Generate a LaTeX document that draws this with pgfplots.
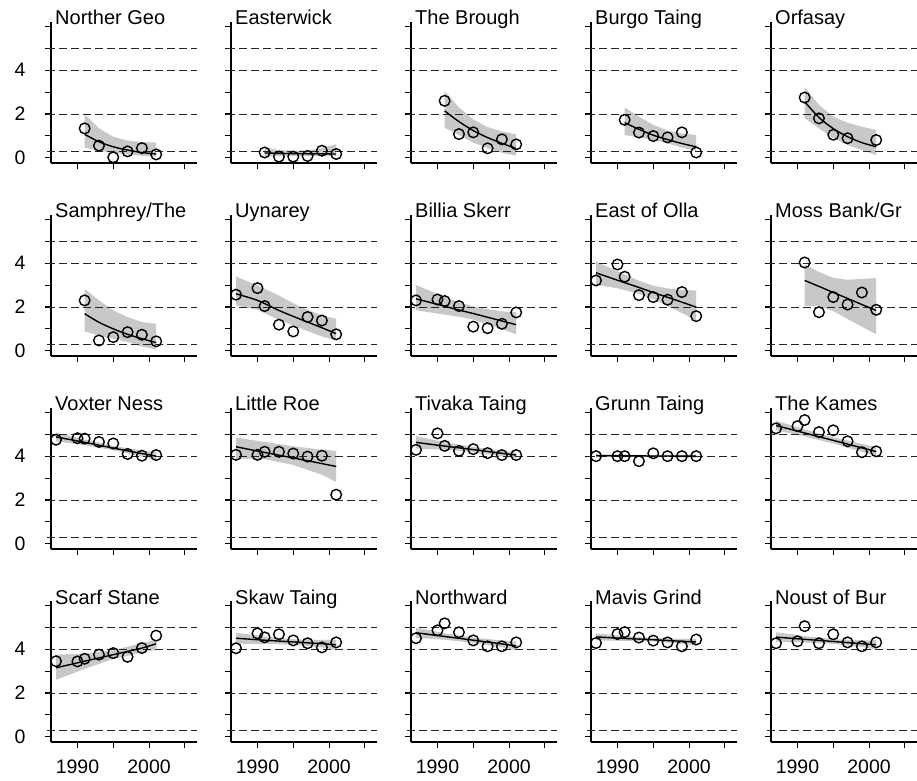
\documentclass[border=0pt]{standalone}
\usepackage{pgfplots}
\pgfplotsset{compat=1.18}
\usepackage{pgfplotstable}
\usepackage{fontspec}
\setmainfont{Liberation Sans}

\definecolor{bandgray}{RGB}{200,200,200}

\pgfplotsset{
  panel/.style={
    scale only axis, width=146pt, height=141pt,
    xmin=1986.3, xmax=2006.7, ymin=-0.24, ymax=6.2,
    clip=false,
    axis x line*=bottom, axis y line*=left,
    axis line style={-, line width=1.6pt},
    xtick={1990,1995,2000,2005}, ytick={0,1,2,3,4,5,6},
    tick align=outside, major tick length=6pt,
    tick style={line width=1.1pt, black},
    xticklabel style={font=\fontsize{19.5}{20}\selectfont, yshift=-8pt},
    yticklabel style={font=\fontsize{19.5}{20}\selectfont, xshift=-16pt},
  },
  refline/.style={black!85, line width=0.9pt, dash pattern=on 8pt off 4pt},
}

% p* = counts, f* = fitted line, b* = band outline (upper edge, then lower edge back)
\pgfplotstableread{
x y
1991 1.34
1993 0.55
1995 0.02
1997 0.29
1999 0.44
2001 0.15
}\pNG
\pgfplotstableread{
x f
1991 1.07
1993 0.73
1995 0.50
1997 0.35
1999 0.24
2001 0.17
}\fNG
\pgfplotstableread{
x y
1991 2.00
1993 1.34
1995 0.96
1997 0.78
1999 0.72
2001 0.69
2001 0.05
1999 0.09
1997 0.15
1995 0.23
1993 0.32
1991 0.46
}\bNG

\pgfplotstableread{
x y
1991 0.24
1993 0.05
1995 0.05
1997 0.08
1999 0.32
2001 0.17
}\pEW
\pgfplotstableread{
x f
1991 0.22
1993 0.20
1995 0.19
1997 0.18
1999 0.18
2001 0.17
}\fEW
\pgfplotstableread{
x y
1991 0.46
1993 0.36
1995 0.32
1997 0.34
1999 0.45
2001 0.62
2001 0.08
1999 0.09
1997 0.09
1995 0.09
1993 0.08
1991 0.06
}\bEW

\pgfplotstableread{
x y
1991 2.60
1993 1.08
1995 1.16
1997 0.43
1999 0.84
2001 0.61
}\pTB
\pgfplotstableread{
x f
1991 2.14
1993 1.65
1995 1.24
1997 0.92
1999 0.66
2001 0.42
}\fTB
\pgfplotstableread{
x y
1991 3.05
1993 2.30
1995 1.75
1997 1.40
1999 1.20
2001 1.07
2001 0.09
1999 0.23
1997 0.43
1995 0.69
1993 1.04
1991 1.37
}\bTB

\pgfplotstableread{
x y
1991 1.73
1993 1.15
1995 0.99
1997 0.93
1999 1.16
2001 0.24
}\pBT
\pgfplotstableread{
x f
1991 1.60
1993 1.30
1995 1.03
1997 0.83
1999 0.65
2001 0.50
}\fBT
\pgfplotstableread{
x y
1991 2.29
1993 1.88
1995 1.50
1997 1.24
1999 1.11
2001 1.04
2001 0.30
1999 0.47
1997 0.66
1995 0.81
1993 0.93
1991 1.04
}\bBT

\pgfplotstableread{
x y
1991 2.75
1993 1.80
1995 1.05
1997 0.89
2001 0.81
}\pOR
\pgfplotstableread{
x f
1991 2.56
1993 1.84
1995 1.33
1997 0.96
1999 0.69
2001 0.50
}\fOR
\pgfplotstableread{
x y
1991 3.22
1993 2.41
1995 1.88
1997 1.60
1999 1.42
2001 1.27
2001 0.12
1999 0.35
1997 0.58
1995 0.89
1993 1.34
1991 1.80
}\bOR

\pgfplotstableread{
x y
1991 2.30
1993 0.47
1995 0.62
1997 0.85
1999 0.73
2001 0.43
}\pSA
\pgfplotstableread{
x f
1991 1.69
1993 1.30
1995 1.00
1997 0.75
1999 0.55
2001 0.37
}\fSA
\pgfplotstableread{
x y
1991 2.83
1993 2.30
1995 1.84
1997 1.54
1999 1.31
2001 1.23
2001 0.05
1999 0.20
1997 0.40
1995 0.55
1993 0.70
1991 0.88
}\bSA

\pgfplotstableread{
x y
1987 2.56
1990 2.86
1991 2.04
1993 1.19
1995 0.88
1997 1.54
1999 1.38
2001 0.75
}\pUY
\pgfplotstableread{
x f
1987 2.60
1990 2.30
1993 1.84
1995 1.57
1997 1.31
1999 1.05
2001 0.78
}\fUY
\pgfplotstableread{
x y
1987 3.39
1990 2.98
1993 2.52
1995 2.17
1997 1.87
1999 1.61
2001 1.46
2001 0.47
1999 0.65
1997 0.90
1995 1.16
1993 1.41
1990 1.87
1987 2.07
}\bUY

\pgfplotstableread{
x y
1987 2.30
1990 2.34
1991 2.27
1993 2.04
1995 1.10
1997 1.03
1999 1.23
2001 1.75
}\pBS
\pgfplotstableread{
x f
1987 2.37
1990 2.12
1993 1.86
1995 1.70
1997 1.53
1999 1.36
2001 1.19
}\fBS
\pgfplotstableread{
x y
1987 3.00
1990 2.60
1993 2.20
1995 2.02
1997 1.90
1999 1.80
2001 1.76
2001 0.75
1999 0.98
1997 1.20
1995 1.42
1993 1.55
1990 1.70
1987 1.85
}\bBS

\pgfplotstableread{
x y
1987 3.21
1990 3.94
1991 3.38
1993 2.54
1995 2.45
1997 2.33
1999 2.68
2001 1.58
}\pEO
\pgfplotstableread{
x f
1987 3.56
1990 3.22
1993 2.89
1995 2.66
1997 2.44
1999 2.22
2001 1.99
}\fEO
\pgfplotstableread{
x y
1987 4.08
1990 3.62
1993 3.20
1995 2.97
1997 2.85
1999 2.78
2001 2.75
2001 1.38
1999 1.72
1997 2.05
1995 2.35
1993 2.60
1990 2.85
1987 3.01
}\bEO

\pgfplotstableread{
x y
1991 4.03
1993 1.76
1995 2.45
1997 2.11
1999 2.66
2001 1.87
}\pMB
\pgfplotstableread{
x f
1991 3.21
1993 2.94
1995 2.66
1997 2.39
1999 2.11
2001 1.84
}\fMB
\pgfplotstableread{
x y
1991 3.94
1993 3.60
1995 3.33
1997 3.24
1999 3.28
2001 3.32
2001 0.75
1999 1.10
1997 1.45
1995 1.81
1993 2.04
1991 2.04
}\bMB

\pgfplotstableread{
x y
1987 4.75
1990 4.82
1991 4.80
1993 4.65
1995 4.58
1997 4.10
1999 4.02
2001 4.05
}\pVN
\pgfplotstableread{
x f
1987 4.88
1991 4.63
1995 4.37
1999 4.12
2001 4.00
}\fVN
\pgfplotstableread{
x y
1987 5.08
1991 4.76
1995 4.47
1999 4.26
2001 4.18
2001 3.82
1999 3.98
1995 4.27
1991 4.50
1987 4.68
}\bVN

\pgfplotstableread{
x y
1987 4.06
1990 4.06
1991 4.20
1993 4.20
1995 4.12
1997 3.98
1999 4.02
2001 2.24
}\pLR
\pgfplotstableread{
x f
1987 4.43
1991 4.17
1995 3.92
1999 3.66
2001 3.53
}\fLR
\pgfplotstableread{
x y
1987 4.85
1991 4.65
1995 4.45
1999 4.30
2001 4.24
2001 2.82
1999 3.15
1995 3.60
1991 3.86
1987 3.89
}\bLR

\pgfplotstableread{
x y
1987 4.29
1990 5.04
1991 4.47
1993 4.24
1995 4.32
1997 4.14
1999 4.05
2001 4.05
}\pTT
\pgfplotstableread{
x f
1987 4.63
1991 4.46
1995 4.30
1999 4.13
2001 4.05
}\fTT
\pgfplotstableread{
x y
1987 4.92
1991 4.64
1995 4.42
1999 4.25
2001 4.17
2001 3.90
1999 4.00
1995 4.18
1991 4.30
1987 4.35
}\bTT

\pgfplotstableread{
x y
1987 4.00
1990 4.00
1991 4.00
1993 3.77
1995 4.13
1997 4.00
1999 4.00
2001 4.00
}\pGT
\pgfplotstableread{
x f
1987 4.02
1994 4.01
2001 4.00
}\fGT
\pgfplotstableread{
x y
1987 4.09
1994 4.05
2001 4.07
2001 3.93
1994 3.97
1987 3.95
}\bGT

\pgfplotstableread{
x y
1987 5.27
1990 5.37
1991 5.65
1993 5.10
1995 5.18
1997 4.68
1999 4.18
2001 4.22
}\pTK
\pgfplotstableread{
x f
1987 5.40
1991 5.06
1995 4.72
1999 4.38
2001 4.21
}\fTK
\pgfplotstableread{
x y
1987 5.62
1991 5.22
1995 4.86
1999 4.56
2001 4.42
2001 4.00
1999 4.20
1995 4.58
1991 4.90
1987 5.18
}\bTK

\pgfplotstableread{
x y
1987 3.45
1990 3.44
1991 3.56
1993 3.75
1995 3.82
1997 3.65
1999 4.05
2001 4.62
}\pSS
\pgfplotstableread{
x f
1987 3.15
1991 3.45
1995 3.75
1999 4.05
2001 4.25
}\fSS
\pgfplotstableread{
x y
1987 3.75
1991 3.80
1995 3.95
1999 4.28
2001 4.42
2001 3.98
1999 3.85
1995 3.55
1991 3.10
1987 2.60
}\bSS

\pgfplotstableread{
x y
1987 4.04
1990 4.72
1991 4.54
1993 4.68
1995 4.40
1997 4.27
1999 4.08
2001 4.31
}\pSK
\pgfplotstableread{
x f
1987 4.50
1991 4.41
1995 4.33
1999 4.25
2001 4.20
}\fSK
\pgfplotstableread{
x y
1987 4.75
1991 4.58
1995 4.45
1999 4.42
2001 4.44
2001 3.96
1999 4.08
1995 4.21
1991 4.24
1987 4.25
}\bSK

\pgfplotstableread{
x y
1987 4.50
1990 4.86
1991 5.18
1993 4.77
1995 4.40
1997 4.13
1999 4.13
2001 4.31
}\pNW
\pgfplotstableread{
x f
1987 4.75
1991 4.58
1995 4.41
1999 4.24
2001 4.15
}\fNW
\pgfplotstableread{
x y
1987 4.98
1991 4.73
1995 4.53
1999 4.40
2001 4.35
2001 3.95
1999 4.08
1995 4.29
1991 4.43
1987 4.52
}\bNW

\pgfplotstableread{
x y
1987 4.28
1990 4.69
1991 4.78
1993 4.53
1995 4.39
1997 4.31
1999 4.13
2001 4.44
}\pMG
\pgfplotstableread{
x f
1987 4.56
1991 4.49
1995 4.43
1999 4.36
2001 4.33
}\fMG
\pgfplotstableread{
x y
1987 4.72
1991 4.60
1995 4.51
1999 4.47
2001 4.48
2001 4.18
1999 4.25
1995 4.35
1991 4.38
1987 4.40
}\bMG

\pgfplotstableread{
x y
1987 4.27
1990 4.36
1991 5.05
1993 4.27
1995 4.68
1997 4.31
1999 4.13
2001 4.31
}\pNB
\pgfplotstableread{
x f
1987 4.55
1991 4.45
1995 4.35
1999 4.25
2001 4.20
}\fNB
\pgfplotstableread{
x y
1987 4.77
1991 4.60
1995 4.46
1999 4.40
2001 4.41
2001 3.99
1999 4.10
1995 4.24
1991 4.30
1987 4.33
}\bNB

% #1 x, #2 y, #3 title, #4 counts, #5 fit, #6 band, #7 x tick labels, #8 y tick labels
\newcommand{\panel}[8]{%
\begin{axis}[panel, at={(#1pt,#2pt)}, anchor=south west,
    xticklabels={#7}, yticklabels={#8}]
  \addplot[fill=bandgray, draw=none] table[x=x, y=y] {#6} -- cycle;
  \addplot[refline] coordinates {(1985.75,0.3) (2006.7,0.3)};
  \addplot[refline] coordinates {(1985.75,2) (2006.7,2)};
  \addplot[refline] coordinates {(1985.75,4) (2006.7,4)};
  \addplot[refline] coordinates {(1985.75,5) (2006.7,5)};
  \addplot[black, line width=1.4pt, smooth] table[x=x, y=f] {#5};
  \addplot[only marks, mark=o, mark size=5.3pt, mark options={line width=1.4pt, black}]
    table[x=x, y=y] {#4};
  \node[anchor=base west, font=\fontsize{20}{20}\selectfont, inner sep=0pt]
    at (rel axis cs:0,1) [xshift=4pt, yshift=-3pt] {#3};
\end{axis}}

\begin{document}
\begin{tikzpicture}
\path[use as bounding box] (0pt,0pt) rectangle (917pt,780pt);
% row 1
\panel{51}{617}{Norther Geo}{\pNG}{\fNG}{\bNG}{}{0,,2,,4,,}
\panel{231}{617}{Easterwick}{\pEW}{\fEW}{\bEW}{}{}
\panel{411}{617}{The Brough}{\pTB}{\fTB}{\bTB}{}{}
\panel{591}{617}{Burgo Taing}{\pBT}{\fBT}{\bBT}{}{}
\panel{771}{617}{Orfasay}{\pOR}{\fOR}{\bOR}{}{}
% row 2
\panel{51}{424}{Samphrey/The}{\pSA}{\fSA}{\bSA}{}{0,,2,,4,,}
\panel{231}{424}{Uynarey}{\pUY}{\fUY}{\bUY}{}{}
\panel{411}{424}{Billia Skerr}{\pBS}{\fBS}{\bBS}{}{}
\panel{591}{424}{East of Olla}{\pEO}{\fEO}{\bEO}{}{}
\panel{771}{424}{Moss Bank/Gr}{\pMB}{\fMB}{\bMB}{}{}
% row 3
\panel{51}{231}{Voxter Ness}{\pVN}{\fVN}{\bVN}{}{0,,2,,4,,}
\panel{231}{231}{Little Roe}{\pLR}{\fLR}{\bLR}{}{}
\panel{411}{231}{Tivaka Taing}{\pTT}{\fTT}{\bTT}{}{}
\panel{591}{231}{Grunn Taing}{\pGT}{\fGT}{\bGT}{}{}
\panel{771}{231}{The Kames}{\pTK}{\fTK}{\bTK}{}{}
% row 4
\panel{51}{38}{Scarf Stane}{\pSS}{\fSS}{\bSS}{1990,,2000,}{0,,2,,4,,}
\panel{231}{38}{Skaw Taing}{\pSK}{\fSK}{\bSK}{1990,,2000,}{}
\panel{411}{38}{Northward}{\pNW}{\fNW}{\bNW}{1990,,2000,}{}
\panel{591}{38}{Mavis Grind}{\pMG}{\fMG}{\bMG}{1990,,2000,}{}
\panel{771}{38}{Noust of Bur}{\pNB}{\fNB}{\bNB}{1990,,2000,}{}
\end{tikzpicture}
\end{document}
